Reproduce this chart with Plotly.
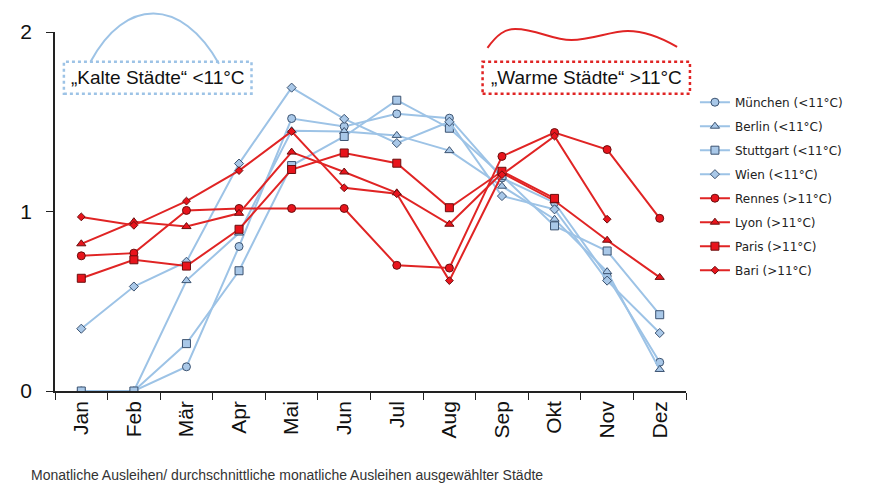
import plotly.graph_objects as go

months = ["Jan", "Feb", "Mär", "Apr", "Mai", "Jun", "Jul", "Aug", "Sep", "Okt", "Nov", "Dez"]

muenchen = [0, 0, 0.135, 0.805, 1.518, 1.474, 1.544, 1.52, 1.187, 1.049, 0.64, 0.16]
berlin = [0, 0, 0.615, 0.88, 1.45, 1.446, 1.424, 1.339, 1.141, 0.957, 0.665, 0.12]
stuttgart = [0, 0, 0.264, 0.67, 1.256, 1.418, 1.62, 1.464, 1.20, 0.92, 0.78, 0.425]
wien = [0.347, 0.582, 0.72, 1.267, 1.69, 1.516, 1.381, 1.50, 1.086, 1.012, 0.615, 0.323]
rennes = [0.753, 0.768, 1.006, 1.017, 1.017, 1.017, 0.70, 0.685, 1.307, 1.44, 1.345, 0.962]
lyon = [0.82, 0.943, 0.916, 0.99, 1.331, 1.22, 1.104, 0.929, 1.215, 1.06, 0.84, 0.633]
paris = [0.628, 0.731, 0.696, 0.901, 1.234, 1.326, 1.269, 1.021, 1.224, 1.073, None, None]
bari = [0.97, 0.923, 1.058, 1.228, 1.446, 1.132, 1.099, 0.615, 1.205, 1.42, 0.957, None]

names = ["München (<11°C)", "Berlin (<11°C)", "Stuttgart (<11°C)", "Wien (<11°C)",
         "Rennes (>11°C)", "Lyon (>11°C)", "Paris (>11°C)", "Bari (>11°C)"]
series = [muenchen, berlin, stuttgart, wien, rennes, lyon, paris, bari]
symbols = ["circle", "triangle-up", "square", "diamond", "circle", "triangle-up", "square", "diamond"]
sizes = [8, 8, 8, 7, 8, 8, 8, 6]

BLUE_LINE = "#9dc3e6"
BLUE_FILL = "#a9c8e8"
BLUE_EDGE = "#3b5270"
RED_LINE = "#e02424"
RED_FILL = "#e8141c"
RED_EDGE = "#6a0f0f"

fig = go.Figure()
for i, (nm, ys) in enumerate(zip(names, series)):
    cold = i < 4
    fig.add_trace(go.Scatter(
        x=months, y=ys, name=nm, mode="lines+markers",
        line=dict(color=BLUE_LINE if cold else RED_LINE, width=2),
        marker=dict(symbol=symbols[i], size=sizes[i],
                    color=BLUE_FILL if cold else RED_FILL,
                    line=dict(color=BLUE_EDGE if cold else RED_EDGE, width=1)),
        legendgroup=nm,
    ))

# page body has an 8px margin: work in window pixels, convert to figure pixels
OFF = 8
W, H = 869 - OFF, 486 - OFF
PL, PR, PT, PB = 47, 686, 30, 391  # plot area in window pixels
L, T = PL - OFF, PT - OFF
R = W - (PR - OFF)
B = H - (PB - OFF)
PW, PH = PR - PL, PB - PT

def px(x):
    return (x - PL) / PW

def py(y):
    return (PB - y) / PH

def path(cmds):
    out = []
    for c in cmds:
        if isinstance(c, str):
            out.append(c)
        else:
            out.append(f"{px(c[0]):.4f},{py(c[1]):.4f}")
    return " ".join(out)

shapes = [
    dict(type="rect", xref="paper", yref="paper", x0=px(56), x1=px(246), y0=py(92), y1=py(60),
         line=dict(color="#9dc3e6", width=2.5, dash="dot")),
    dict(type="rect", xref="paper", yref="paper", x0=px(480), x1=px(690), y0=py(92), y1=py(60),
         line=dict(color="#e02424", width=2.5, dash="dot")),
    dict(type="path", xref="paper", yref="paper",
         path=path(["M", (83, 60), "C", (118, -5), (175, -5), (213, 62)]),
         line=dict(color="#9dc3e6", width=2)),
    dict(type="path", xref="paper", yref="paper",
         path=path(["M", (485, 46), "C", (495, 32), (503, 27), (513, 27),
                    "C", (535, 27), (550, 38), (570, 38),
                    "C", (590, 38), (610, 29), (627, 29),
                    "C", (645, 29), (665, 38), (677, 45)]),
         line=dict(color="#e02424", width=2)),
]

annotations = [
    dict(text="„Kalte Städte“ <11°C", xref="paper", yref="paper", x=px(151), y=py(76),
         showarrow=False, font=dict(family="Liberation Sans, Arial", size=19, color="#111"),
         xanchor="center", yanchor="middle"),
    dict(text="„Warme Städte“ >11°C", xref="paper", yref="paper", x=px(585), y=py(76),
         showarrow=False, font=dict(family="Liberation Sans, Arial", size=19, color="#111"),
         xanchor="center", yanchor="middle"),
    dict(text="Monatliche Ausleihen/ durchschnittliche monatliche Ausleihen ausgewählter Städte",
         xref="paper", yref="paper", x=px(21), y=py(475), showarrow=False,
         font=dict(family="Liberation Sans, Arial", size=14, color="#333"),
         xanchor="left", yanchor="middle"),
]

fig.update_layout(
    width=W, height=H,
    margin=dict(l=L, r=R, t=T, b=B),
    paper_bgcolor="white", plot_bgcolor="white",
    showlegend=True,
    legend=dict(x=px(850), y=py(86), xanchor="right", yanchor="top",
                font=dict(family="DejaVu Sans", size=12, color="#222"),
                itemwidth=30, tracegroupgap=5, bgcolor="rgba(0,0,0,0)"),
    shapes=shapes,
    annotations=annotations,
    xaxis=dict(type="category", range=[-0.5, 11.5], tickson="boundaries", ticks="outside",
               ticklen=7, tickcolor="#222", showline=True, linecolor="#222", linewidth=1.5,
               showgrid=False, tickangle=-90,
               tickfont=dict(family="Liberation Sans, Arial", size=21, color="#111")),
    yaxis=dict(range=[0, 2], tickvals=[0, 1, 2], ticks="outside", ticklen=7, tickcolor="#222",
               showline=True, linecolor="#222", linewidth=1.5, showgrid=False, zeroline=False,
               ticklabelstandoff=10,
               tickfont=dict(family="Liberation Sans, Arial", size=21, color="#111")),
)

fig.write_html("out.html")
